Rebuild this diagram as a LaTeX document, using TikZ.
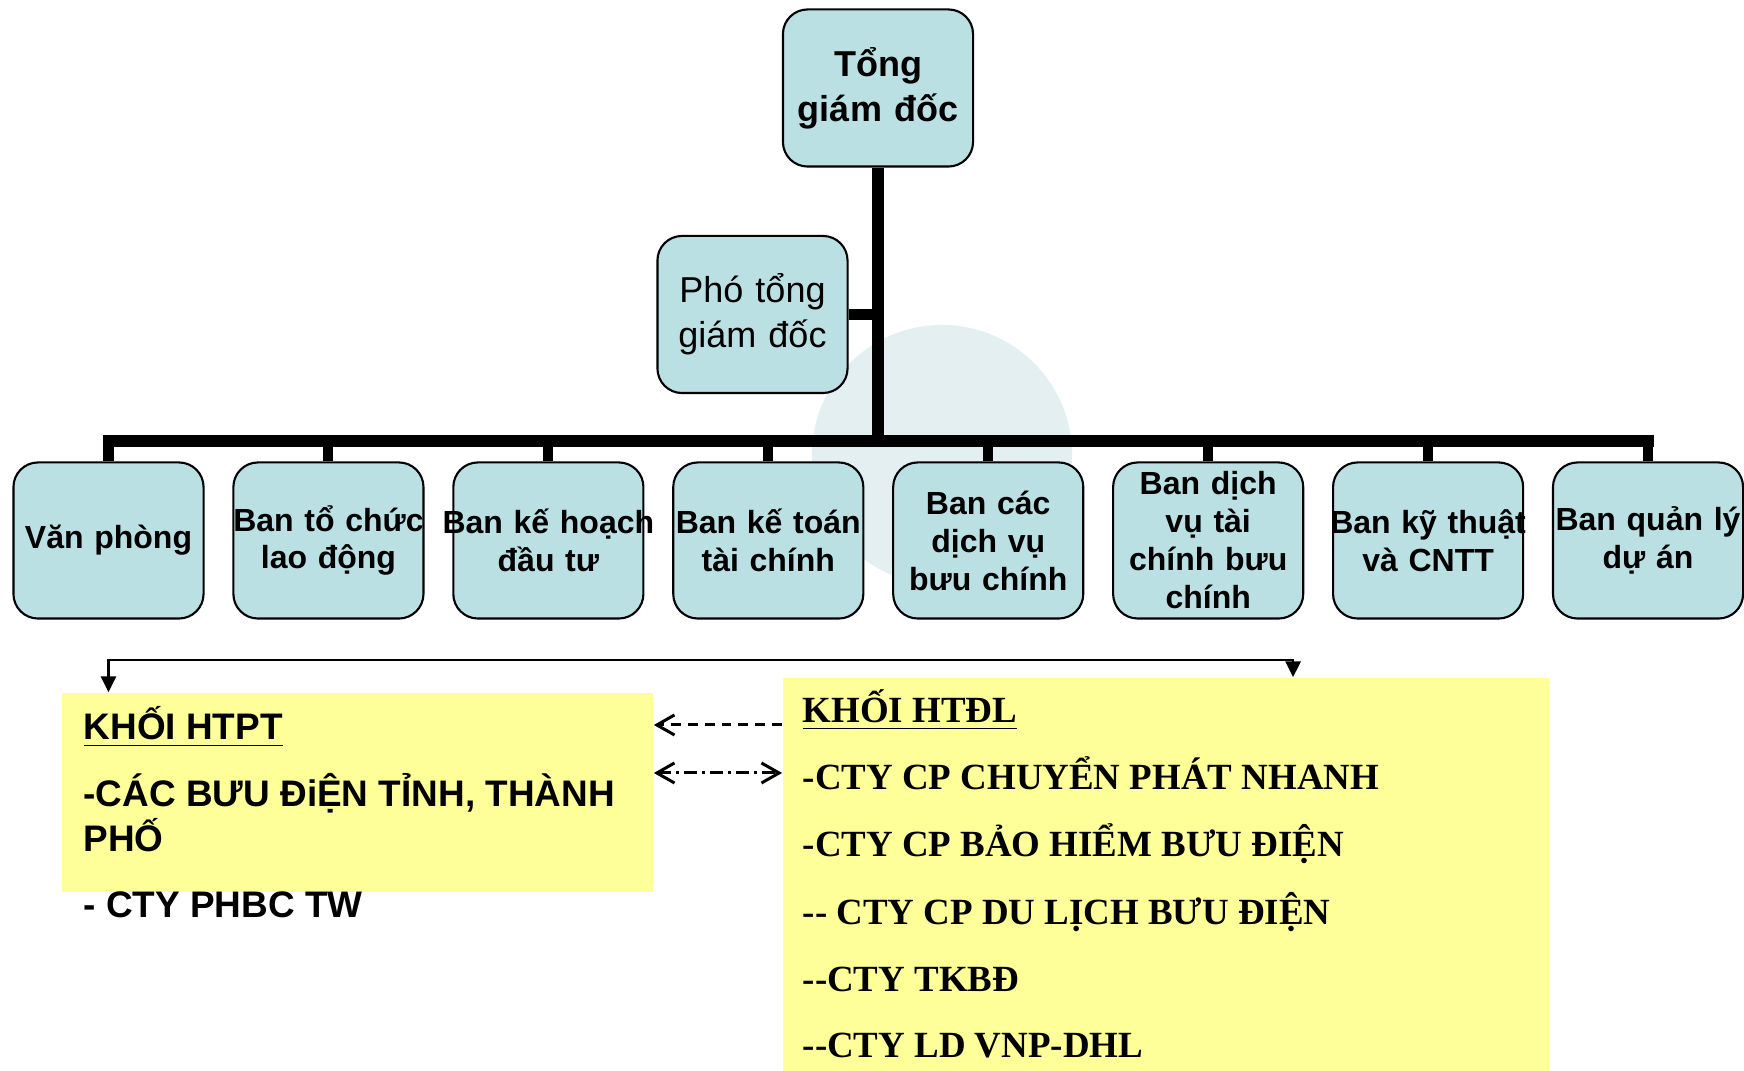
\documentclass[tikz,border=0pt]{standalone}
\usepackage{fontspec}
\setmainfont{Liberation Sans}
\newfontfamily\tnr{Liberation Serif}
\usetikzlibrary{positioning,arrows.meta}
\definecolor{cyn}{HTML}{BBE0E3}
\definecolor{yel}{HTML}{FFFF99}
\definecolor{wmk}{HTML}{E3EFF1}

\begin{document}
\begin{tikzpicture}[
  x=0.01cm, y=-0.01cm,
  font=\fontsize{9.1}{10.8}\selectfont,
  box/.style={rounded corners=7pt, draw=black, line width=0.6pt, fill=cyn, align=center, inner sep=0pt,
    text width=1.9cm, minimum height=1.56cm, font=\bfseries\fontsize{9.1}{10.8}\selectfont},
  trunk/.style={line width=3.4pt},
  bar/.style={line width=3.4pt, line cap=rect},
  stub/.style={line width=2.85pt},
  arm/.style={line width=3.1pt},
  blk/.style={fill=yel, inner sep=0pt},
  ltxt/.style={anchor=base west, inner sep=0pt, font=\bfseries\fontsize{10.5}{12.8}\selectfont},
  rtxt/.style={anchor=base west, inner sep=0pt, font=\tnr\bfseries\fontsize{10.5}{12.8}\selectfont},
  link/.style={line width=0.7pt, {Triangle[length=4.5pt,width=4.3pt]}-{Triangle[length=4.5pt,width=4.3pt]}},
  dsh/.style={line width=0.85pt, -{Straight Barb[length=5pt,width=5.7pt]}, dash pattern=on 2.8pt off 2pt},
  dshd/.style={line width=0.85pt, {Straight Barb[length=5pt,width=5.7pt]}-{Straight Barb[length=5pt,width=5.7pt]},
    dash pattern=on 3.7pt off 1.4pt on 0.85pt off 1.4pt}
]
\useasboundingbox (0,0) rectangle (1744,1071);

% faint disc behind the tree
\fill[wmk] (942,455) circle[radius=1.3cm];

% ---------------------------------------------------------------- heads
\node[box, font=\bfseries\fontsize{10.24}{12.8}\selectfont, minimum height=1.57cm] (tgd) at (878,88) {Tổng\\giám đốc};
\node[box, font=\fontsize{10.24}{12.8}\selectfont, minimum height=1.57cm] (ptgd) at (752.5,314.5) {Phó tổng\\giám đốc};

% ---------------------------------------------------------------- departments
\coordinate (bar) at (878,441);
\node[box] (vp) at (108.5,540.5) {Văn phòng};
\node[box, right=0.277cm of vp] (tc) {\makebox[\linewidth]{Ban tổ chức}\\lao động};
\node[box, right=0.277cm of tc] (kh) {\makebox[\linewidth]{Ban kế hoạch}\\đầu tư};
\node[box, right=0.277cm of kh] (kt) {Ban kế toán\\tài chính};
\node[box, right=0.277cm of kt] (dv) {Ban các\\dịch vụ\\bưu chính};
\node[box, right=0.277cm of dv] (tcbc) {Ban dịch\\vụ tài\\chính bưu\\chính};
\node[box, right=0.277cm of tcbc] (cntt) {\makebox[\linewidth]{Ban kỹ thuật}\\và CNTT};
\node[box, right=0.277cm of cntt] (qlda) {Ban quản lý\\dự án};

% tree lines
\draw[trunk] (tgd.south) -- (tgd.south |- bar);
\draw[arm] (ptgd.east) -- (ptgd.east -| tgd.south);
\draw[bar] (vp.north |- bar) -- (qlda.north |- bar);
\draw[stub] (vp.north |- bar) -- (vp.north);
\draw[stub] (tc.north |- bar) -- (tc.north);
\draw[stub] (kh.north |- bar) -- (kh.north);
\draw[stub] (kt.north |- bar) -- (kt.north);
\draw[stub] (dv.north |- bar) -- (dv.north);
\draw[stub] (tcbc.north |- bar) -- (tcbc.north);
\draw[stub] (cntt.north |- bar) -- (cntt.north);
\draw[stub] (qlda.north |- bar) -- (qlda.north);

% ---------------------------------------------------------------- blocks
\node[blk, minimum width=5.91cm, minimum height=1.99cm] (htpt) at (357.5,792.5) {};
\node[blk, minimum width=7.66cm, minimum height=3.93cm] (htdl) at (1166,874.5) {};

\node[ltxt] (p1) at (83,740) {\underline{KHỐI HTPT}};
\node[ltxt] (p2) at (83,807) {-CÁC BƯU ĐiỆN TỈNH, THÀNH};
\node[ltxt] (p3) at (83,852) {PHỐ};
\node[ltxt] (p4) at (83,918) {- CTY PHBC TW};

\node[rtxt] (q1) at (802,723) {\underline{KHỐI HTĐL}};
\node[rtxt] (q2) at (802,790) {-CTY CP CHUYỂN PHÁT NHANH};
\node[rtxt] (q3) at (802,857) {-CTY CP BẢO HIỂM BƯU ĐIỆN};
\node[rtxt] (q4) at (802,925) {-{}- CTY CP DU LỊCH BƯU ĐIỆN};
\node[rtxt] (q5) at (802,992) {-{}-CTY TKBĐ};
\node[rtxt] (q6) at (802,1058) {-{}-CTY LD VNP-DHL};

% links between the blocks
\coordinate (d1) at (0,725);
\coordinate (d2) at (0,773);
\draw[link] (htpt.north -| vp.south) -- ++(0,-32) -| ([xshift=1.27cm]htdl.north);
\draw[dsh] (d1 -| htdl.west) -- (d1 -| htpt.east);
\draw[dshd] (d2 -| htpt.east) -- (d2 -| htdl.west);
\end{tikzpicture}
\end{document}
